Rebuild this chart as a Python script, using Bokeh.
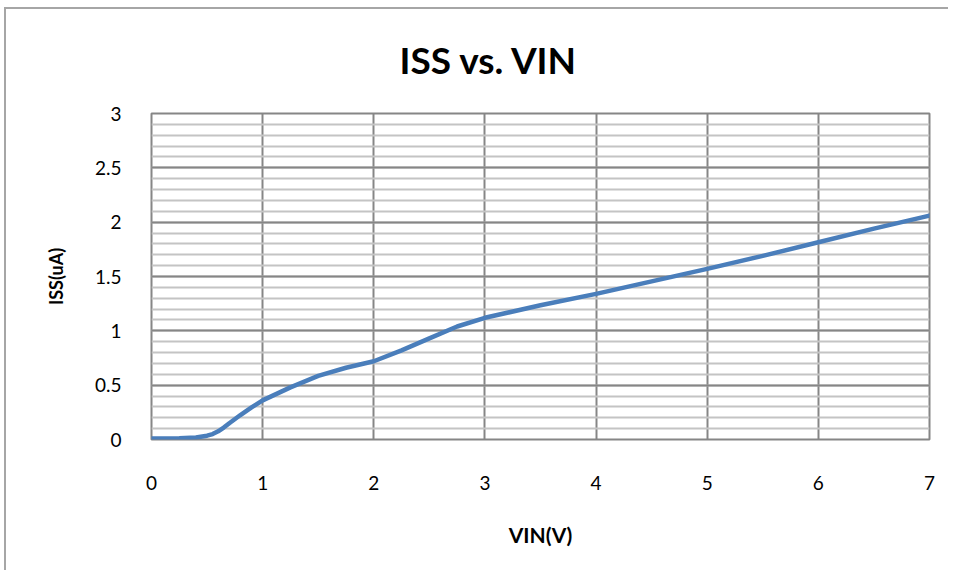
from bokeh.plotting import figure
from bokeh.models import FixedTicker, Range1d, Title
from bokeh.embed import file_html
from bokeh.resources import INLINE

# Data
vin = [0.0, 0.25, 0.4, 0.5, 0.55, 0.6, 0.65, 0.7, 0.8, 0.9, 1.0, 1.25, 1.5, 1.75,
       2.0, 2.25, 2.5, 2.75, 3.0, 3.5, 4.0, 4.5, 5.0, 5.5, 6.0, 6.5, 7.0]
iss = [0.01, 0.012, 0.018, 0.035, 0.05, 0.075, 0.11, 0.15, 0.225, 0.295, 0.36, 0.48,
       0.585, 0.66, 0.72, 0.82, 0.93, 1.04, 1.12, 1.235, 1.34, 1.455, 1.57, 1.69,
       1.815, 1.94, 2.06]

x_ticks = [0, 1, 2, 3, 4, 5, 6, 7]
x_tick_labels = ["0", "1", "2", "3", "4", "5", "6", "7"]
y_ticks = [0, 0.5, 1, 1.5, 2, 2.5, 3]
y_tick_labels = ["0", "0.5", "1", "1.5", "2", "2.5", "3"]
y_minor = [i / 10 for i in range(31)]
title_text = "ISS vs. VIN"

FONT = "Lato"

p = figure(width=948, height=570, output_backend="svg", toolbar_location=None,
           x_range=Range1d(0, 7), y_range=Range1d(0, 3),
           min_border_left=151, min_border_right=19, min_border_top=113,
           min_border_bottom=131)
p.border_fill_color = None
p.styles = {"background": "linear-gradient(#a6a6a6,#a6a6a6) 4px 7px / 2px 100% no-repeat, "
                          "linear-gradient(#a6a6a6,#a6a6a6) 4px 7px / 100% 2px no-repeat, #ffffff"}
p.background_fill_color = "#ffffff"

p.line(vin, iss, line_color="#4a7ebb", line_width=4.5, line_join="round", line_cap="round")

p.outline_line_color = "#868686"
p.outline_line_width = 2

p.xaxis.ticker = FixedTicker(ticks=x_ticks)
p.xaxis.major_label_overrides = {t: l for t, l in zip(x_ticks, x_tick_labels)}
p.yaxis.ticker = FixedTicker(ticks=y_ticks, minor_ticks=y_minor)
p.yaxis.major_label_overrides = {t: l for t, l in zip(y_ticks, y_tick_labels)}

for ax in (p.xaxis[0], p.yaxis[0]):
    ax.axis_line_color = None
    ax.major_tick_line_color = None
    ax.minor_tick_line_color = None
    ax.major_label_text_font = FONT
    ax.major_label_text_font_size = "19px"
    ax.major_label_text_color = "#000000"
    ax.axis_label_text_font = FONT
    ax.axis_label_text_font_style = "bold"
    ax.axis_label_text_color = "#000000"

p.xaxis.axis_label = "VIN(V)"
p.yaxis.axis_label = "ISS(uA)"
p.xaxis.axis_label_text_font_size = "21px"
p.yaxis.axis_label_text_font_size = "18px"
p.xaxis.major_label_standoff = 30
p.xaxis.axis_label_standoff = 29
p.yaxis.major_label_standoff = 24
p.yaxis.axis_label_standoff = 25

p.xgrid.grid_line_color = "#868686"
p.xgrid.grid_line_width = 2
p.ygrid.grid_line_color = "#868686"
p.ygrid.grid_line_width = 2
p.ygrid.minor_grid_line_color = "#c4c4c4"
p.ygrid.minor_grid_line_width = 2

p.title = Title(text=title_text, align="left", offset=248, text_font=FONT,
                text_font_size="37px", text_font_style="bold", text_color="#000000",
                vertical_align="top", standoff=60)

open("out.html", "w").write(file_html(p, INLINE))
